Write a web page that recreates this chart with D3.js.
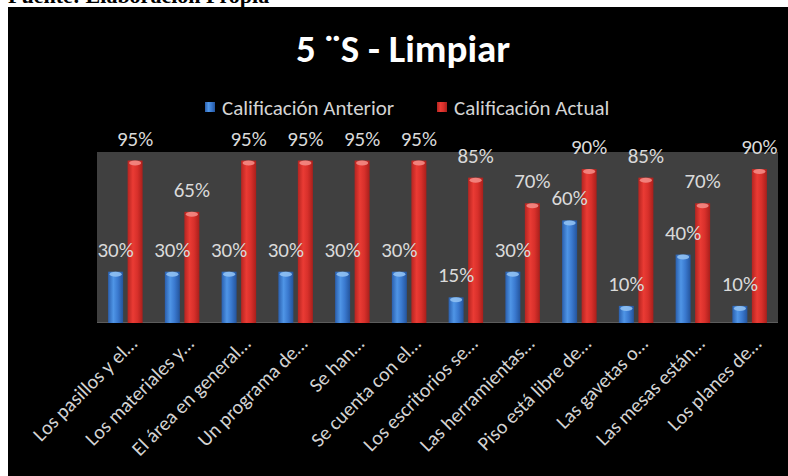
<!DOCTYPE html>
<html>
<head>
<meta charset="utf-8">
<script src="https://cdn.jsdelivr.net/npm/d3@7"></script>
<style>
  body { margin: 0; background: #fff; }
  svg { display: block; }
  text { font-family: Carlito, 'Open Sans', sans-serif; }
</style>
</head>
<body>
<div id="chart"></div>
<script>
const categories = [
	'Los pasillos y el…', 'Los materiales y…', 'El área en general…', 'Un programa de…',
	'Se han…', 'Se cuenta con el…', 'Los escritorios se…', 'Las herramientas…',
	'Piso está libre de…', 'Las gavetas o…', 'Las mesas están…', 'Los planes de…',
];
const seriesNames = ['Calificación Anterior', 'Calificación Actual'];
const anterior = [30, 30, 30, 30, 30, 30, 15, 30, 60, 10, 40, 10];
const actual = [95, 65, 95, 95, 95, 95, 85, 70, 90, 85, 70, 90];
const yDomain = [0, 100];

const W = 788;
const H = 476;
const margin = { top: 152, right: 10, bottom: 153, left: 97 };
const width = 778 - margin.left;
const height = 323 - margin.top;

const svg = d3.select('#chart').append('svg')
	.attr('width', W)
	.attr('height', H);

// source caption, only its lower edge shows above the chart
svg.append('text')
	.attr('x', 8)
	.attr('y', 3)
	.style('font-family', "'Liberation Serif', serif")
	.style('font-size', '22px')
	.style('font-weight', 'bold')
	.attr('fill', '#000')
	.text('Fuente: Elaboración Propia');

svg.append('rect')
	.attr('x', 8).attr('y', 7)
	.attr('width', W - 8).attr('height', H - 7)
	.attr('fill', '#000');

// gradients for the cylinder look
const defs = svg.append('defs');
const grads = [
	{ id: 'g-blue', stops: ['#2a5fae', '#4f95e6', '#3a79cf', '#24549c'] },
	{ id: 'g-red', stops: ['#b52420', '#ea3b34', '#d8302b', '#a91f1b'] },
];
grads.forEach((g) => {
	const lg = defs.append('linearGradient').attr('id', g.id)
		.attr('x1', '0%').attr('x2', '100%').attr('y1', '0%').attr('y2', '0%');
	g.stops.forEach((c, i) => {
		lg.append('stop').attr('offset', `${[0, 35, 65, 100][i]}%`).attr('stop-color', c);
	});
});
const capColors = ['#8fc0f2', '#f38a84'];
const fills = ['url(#g-blue)', 'url(#g-red)'];

const chart = svg.append('g')
	.attr('transform', `translate(${margin.left}, ${margin.top})`);

chart.append('rect')
	.attr('width', width)
	.attr('height', height)
	.attr('fill', '#404040');
chart.append('line')
	.attr('x1', 0).attr('x2', width)
	.attr('y1', height - 0.5).attr('y2', height - 0.5)
	.attr('stroke', '#5c5c5c');

const x0 = d3.scaleBand()
	.domain(categories)
	.range([0, width])
	.padding(0);
const x1 = d3.scaleBand()
	.domain(seriesNames)
	.range([0, x0.bandwidth()])
	.paddingInner(0.23)
	.paddingOuter(0.57);
const y = d3.scaleLinear()
	.domain(yDomain)
	.range([height, 0]);

const rows = categories.map((c, i) => ({
	cat: c,
	vals: [
		{ s: 0, name: seriesNames[0], v: anterior[i] },
		{ s: 1, name: seriesNames[1], v: actual[i] },
	],
}));

const groups = chart.selectAll('.bar-group')
	.data(rows)
	.enter().append('g')
		.attr('class', 'bar-group')
		.attr('transform', d => `translate(${x0(d.cat)}, 0)`);

groups.selectAll('rect.bar')
	.data(d => d.vals)
	.enter().append('rect')
		.attr('class', 'bar')
		.attr('x', d => x1(d.name))
		.attr('y', d => y(d.v))
		.attr('width', x1.bandwidth())
		.attr('height', d => height - y(d.v))
		.attr('fill', d => fills[d.s]);

groups.selectAll('ellipse.cap')
	.data(d => d.vals)
	.enter().append('ellipse')
		.attr('class', 'cap')
		.attr('cx', d => x1(d.name) + x1.bandwidth() / 2)
		.attr('cy', d => y(d.v) + 2.5)
		.attr('rx', x1.bandwidth() / 2 - 1.5)
		.attr('ry', 2.5)
		.attr('fill', d => capColors[d.s])
		.attr('opacity', 0.9);

// value labels (blue first, then red on top)
[0, 1].forEach((s) => {
	groups.append('text')
		.attr('x', d => x1(seriesNames[s]) + x1.bandwidth() / 2)
		.attr('y', d => y(d.vals[s].v) - 15)
		.attr('text-anchor', 'middle')
		.attr('fill', '#dadada')
		.style('font-size', '21px')
		.text(d => `${d.vals[s].v}%`);
});

// rotated category labels
chart.append('g')
	.selectAll('text')
	.data(categories)
	.enter().append('text')
		.attr('transform', d => `translate(${x0(d) + x0.bandwidth() / 2 + 13}, ${height + 22}) rotate(-45)`)
		.attr('text-anchor', 'end')
		.attr('fill', '#d4d4d4')
		.style('font-size', '20px')
		.text(d => d);

// title
svg.append('text')
	.attr('x', 403)
	.attr('y', 62)
	.attr('text-anchor', 'middle')
	.attr('fill', '#fff')
	.style('font-size', '39px')
	.style('font-weight', 'bold')
	.text('5 ¨S - Limpiar');

// legend
const legendX = [205, 437];
const legend = svg.append('g');
seriesNames.forEach((name, i) => {
	legend.append('rect')
		.attr('x', legendX[i]).attr('y', 102)
		.attr('width', 10).attr('height', 10)
		.attr('fill', fills[i]);
	legend.append('text')
		.attr('x', legendX[i] + 17)
		.attr('y', 115)
		.attr('fill', '#d4d4d4')
		.style('font-size', '21px')
		.text(name);
});
</script>
</body>
</html>
